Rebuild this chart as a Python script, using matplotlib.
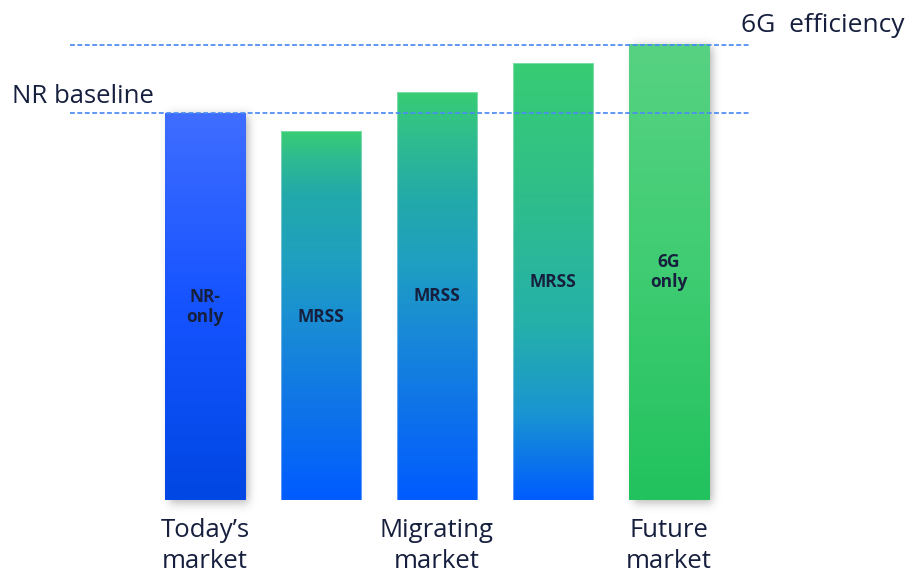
import numpy as np
import matplotlib
matplotlib.use("Agg")
import matplotlib.pyplot as plt
from matplotlib.colors import LinearSegmentedColormap
from matplotlib.patches import Rectangle
from math import erf

# Spectral efficiency relative to the NR baseline (= 100)
bar_labels = ["NR-\nonly", "MRSS", "MRSS", "MRSS", "6G\nonly"]
bar_values = [100, 95.3, 105.4, 112.9, 117.8]
label_heights = [49.9, 47.3, 52.7, 56.3, 58.9]
category_labels = ["Today\u2019s\nmarket", "Migrating\nmarket", "Future\nmarket"]
category_positions = [0, 2, 4]
nr_baseline = 100
sixg_efficiency = 117.6

# Vertical colour ramps for each bar (fraction from top, colour)
GREEN, BLUE = "#38cc74", "#005cff"
ramps = [
    [(0, "#3f6dff"), (0.5, "#1553ff"), (1, "#0047e3")],
    [(0, GREEN), (0.07, "#2fbb90"), (0.17, "#22a9aa"), (0.35, "#1fa0c0"),
     (0.5, "#1a8fd2"), (0.75, "#0f74e8"), (1, BLUE)],
    [(0, GREEN), (0.12, "#2fbb90"), (0.27, "#22a9aa"), (0.42, "#1f9fc2"),
     (0.6, "#1888d8"), (0.8, "#0d70ec"), (1, BLUE)],
    [(0, GREEN), (0.3, "#2fbe8a"), (0.6, "#25b0aa"), (0.8, "#1a95d0"), (1, BLUE)],
    [(0, "#57d282"), (0.5, "#3fcc72"), (1, "#22c25e")],
]
shadowed = [True, False, False, False, True]

W, H, DPI = 910, 572, 100
fig = plt.figure(figsize=(W / DPI, H / DPI), dpi=DPI)
ax = fig.add_axes([0, 0, 1, 1])
ax.set_axis_off()

px_per_x = 116.0
x0_px = 205.0
px_per_y = 3.87
y0_px = 500.0
ax.set_xlim(-x0_px / px_per_x, (W - x0_px) / px_per_x)
ax.set_ylim(-(H - y0_px) / px_per_y, y0_px / px_per_y)

bar_w = 0.69
navy = "#161f3d"
text_font = ["Open Sans", "DejaVu Sans"]
verf = np.vectorize(erf)

for i, (val, ramp) in enumerate(zip(bar_values, ramps)):
    left = i - bar_w / 2
    if shadowed[i]:
        # soft drop shadow built from a blurred rectangle mask
        pad = 0.15
        ny, nx = 200, 60
        xs = np.linspace(left - pad, left + bar_w + pad, nx)
        ys = np.linspace(-6, val + 6, ny)
        X, Y = np.meshgrid(xs, ys)
        sx, sy = 0.05, 1.8
        fx = 0.5 * (verf((X - (left + 0.03)) / sx) - verf((X - (left + bar_w + 0.03)) / sx))
        fy = 0.5 * (verf((Y - (-1.0)) / sy) - verf((Y - (val - 0.5)) / sy))
        a = np.clip(fx * fy, 0, 1) * 0.45
        img = np.zeros((ny, nx, 4))
        img[..., :3] = 0.35
        img[..., 3] = a
        ax.imshow(img, extent=(xs[0], xs[-1], ys[0], ys[-1]), origin="lower",
                  aspect="auto", zorder=1, interpolation="bilinear")
    cmap = LinearSegmentedColormap.from_list(f"ramp{i}", ramp)
    grad = np.linspace(0, 1, 256).reshape(-1, 1)
    rect = Rectangle((left, 0), bar_w, val, facecolor="none",
                     edgecolor=(1, 1, 1, 0.35) if not shadowed[i] else "none",
                     linewidth=0.8, zorder=3)
    ax.add_patch(rect)
    im = ax.imshow(grad, cmap=cmap, vmin=0, vmax=1, extent=(left, left + bar_w, 0, val),
                   origin="upper", aspect="auto", zorder=2, interpolation="bicubic")
    im.set_clip_path(rect)
    ax.text(i, label_heights[i], bar_labels[i], ha="center", va="center",
            fontsize=12.5, fontweight="bold", color=navy, family=text_font,
            linespacing=1.1, zorder=4)

# reference levels
line_x0 = (70 - x0_px) / px_per_x
line_x1 = (750 - x0_px) / px_per_x
for level in (nr_baseline, sixg_efficiency):
    ax.plot([line_x0, line_x1], [level, level], color="#4a8af5", lw=1.3,
            dashes=(2.7, 1.4), zorder=5, alpha=0.95)

ax.text((12 - x0_px) / px_per_x, (y0_px - 103.3) / px_per_y, "NR baseline", ha="left",
        va="baseline", fontsize=18.5, color=navy, family=text_font)
ax.text((905 - x0_px) / px_per_x, (y0_px - 31.7) / px_per_y, "6G  efficiency", ha="right",
        va="baseline", fontsize=19, color=navy, family=text_font)

for pos, lab in zip(category_positions, category_labels):
    ax.text(pos, (y0_px - 518) / px_per_y, lab, ha="center", va="top", fontsize=18.5,
            color=navy, family=text_font, linespacing=1.3)

fig.savefig("out.png", dpi=DPI, facecolor="white")
